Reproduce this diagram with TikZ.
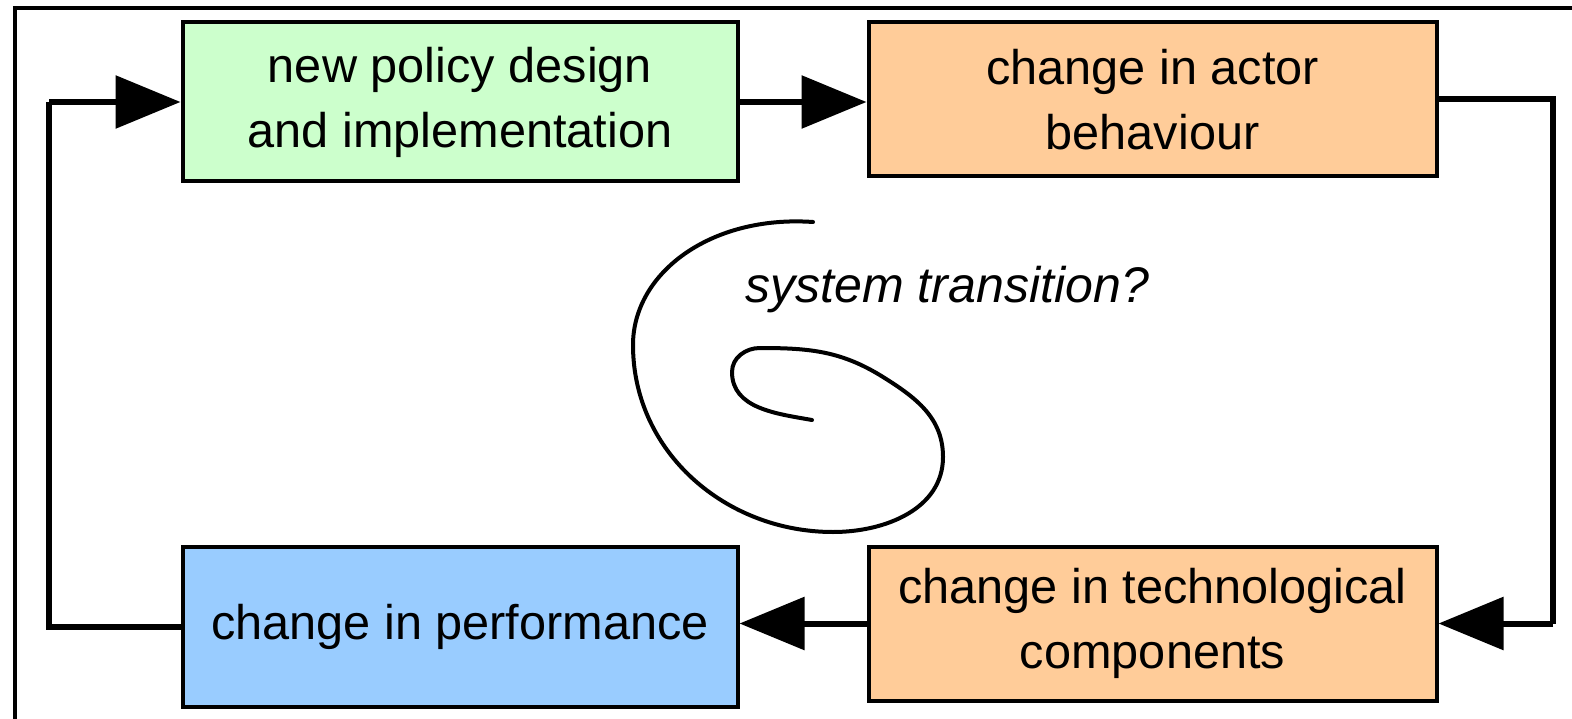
\documentclass[tikz,border=0pt]{standalone}
\usepackage{fontspec}
\setmainfont{Liberation Sans}
\usetikzlibrary{arrows.meta}

\begin{document}
\begin{tikzpicture}
[box/.style = {draw, line width=0.08cm, align=center, inner sep=0pt,
  font=\fontsize{27.7}{37}\selectfont},
flow/.style = {line width=0.12cm, -{Triangle[length=1.3cm, width=1.04cm]}},
line/.style = {line width=0.12cm},
]
\useasboundingbox (0,0) rectangle (31.44,-14.38);
\draw [line width=0.07cm] (0.26,-0.16) -- (31.44,-0.16);
\draw [line width=0.07cm] (0.3,-0.16) -- (0.3,-14.38);

\node [box, fill={rgb,255:red,204;green,255;blue,204}, minimum width=11.1cm, minimum height=3.18cm]
  (policy) at (9.2,-2.04) {new policy design\\and implementation};
\node [box, fill={rgb,255:red,255;green,204;blue,153}, minimum width=11.36cm, minimum height=3.08cm]
  (actor) at (23.05,-1.99) {change in actor\\behaviour};
\node [box, fill={rgb,255:red,255;green,204;blue,153}, minimum width=11.36cm, minimum height=3.08cm]
  (techno) at (23.05,-12.47) {change in technological\\components};
\node [box, fill={rgb,255:red,153;green,204;blue,255}, minimum width=11.1cm, minimum height=3.2cm]
  (perf) at (9.2,-12.53) {change in performance};

\coordinate (lft) at (0.98,0);
\coordinate (rgt) at (31.06,0);

\draw [flow] (policy.east) -- (policy.east -| actor.west);
\draw [line] (actor.east) -- (actor.east -| rgt) -- (techno.east -| rgt);
\draw [flow] (techno.east -| rgt) -- (techno.east);
\draw [flow] (techno.west) -- (techno.west -| perf.east);
\draw [line] (perf.west) -- (perf.west -| lft) -- (policy.west -| lft);
\draw [flow] (policy.west -| lft) -- (policy.west);

\draw [line width=0.08cm, line cap=round] (16.26,-4.44)
  to [out=176, in=90, out looseness=1.2, in looseness=0.85] (12.66,-6.9)
  to [out=-90, in=180] (16.66,-10.64)
  to [out=0, in=-90] (18.86,-9.14)
  to [out=90, in=-32] (17.66,-7.54)
  to [out=148, in=0] (15.2,-6.96)
  to [out=180, in=90] (14.64,-7.44)
  to [out=-90, in=170] (16.24,-8.4);
\node [anchor=base west, inner sep=0pt, font=\fontsize{28.5}{34}\selectfont\itshape]
  (trans) at (14.9,-6.04) {system transition?};
\end{tikzpicture}
\end{document}
